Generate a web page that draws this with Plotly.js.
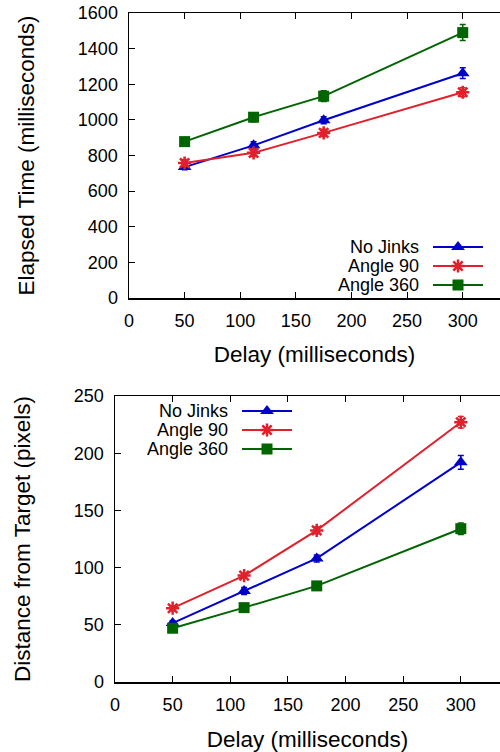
<!DOCTYPE html>
<html><head><meta charset="utf-8">
<script src="https://cdn.plot.ly/plotly-3.0.1.min.js"></script>
<style>html,body{margin:0;padding:0;background:#fff}#c{width:500px;height:752px}</style>
</head><body><div id="c"></div>
<script>
// Data
const delays = [50, 112, 175, 300];
const seriesNames = ["No Jinks", "Angle 90", "Angle 360"];
const timeNoJinks = [735, 857, 998, 1262];
const timeAngle90 = [758, 815, 927, 1155];
const timeAngle360 = [878, 1015, 1133, 1490];
const timeErrNoJinks = [15, 20, 20, 30];
const timeErrAngle90 = [20, 20, 20, 25];
const timeErrAngle360 = [15, 25, 30, 45];
const distNoJinks = [51.5, 79.5, 108, 192];
const distAngle90 = [64.5, 93, 132.5, 227];
const distAngle360 = [47, 65, 84, 134];
const distErrNoJinks = [2, 3, 3, 6];
const distErrAngle90 = [2, 2, 3, 5];
const distErrAngle360 = [2, 2, 2, 5];
const xTicks = [0, 50, 100, 150, 200, 250, 300];
const timeTicks = [0, 200, 400, 600, 800, 1000, 1200, 1400, 1600];
const distTicks = [0, 50, 100, 150, 200, 250];

const colors = ["#0000cc", "#e0202a", "#006400"];
const symbols = ["triangle-up", "asterisk-open", "square"];
const msize = [12, 11, 11];
const FONT = "Liberation Sans, Arial, sans-serif";

const timeY = [timeNoJinks, timeAngle90, timeAngle360];
const timeE = [timeErrNoJinks, timeErrAngle90, timeErrAngle360];
const distY = [distNoJinks, distAngle90, distAngle360];
const distE = [distErrNoJinks, distErrAngle90, distErrAngle360];

const traces = [];
function addSeries(ys, es, xa, ya) {
  for (let i = 0; i < 3; i++) {
    traces.push({
      x: delays, y: ys[i], xaxis: xa, yaxis: ya, type: "scatter", mode: "lines+markers",
      name: seriesNames[i], showlegend: false,
      line: {color: colors[i], width: 2},
      marker: {symbol: symbols[i], size: msize[i], color: colors[i], opacity: 1, line: {color: colors[i], width: symbols[i] === "asterisk-open" ? 2.5 : 0}},
      error_y: {type: "data", array: es[i], visible: true, color: colors[i], thickness: 1.5, width: 3}
    });
  }
}
addSeries(timeY, timeE, "x", "y");
addSeries(distY, distE, "x2", "y2");

// Custom legends (text left of sample), positioned in page pixels
const W = 500, H = 752;
const px = v => v / W, py = v => 1 - v / H;
const legends = [
  {textRight: 421, x0: 433, x1: 483, rows: [247, 266, 285], xa: "x3", ya: "y3"},
  {textRight: 230, x0: 242, x1: 292, rows: [411, 430, 449], xa: "x4", ya: "y4"}
];
const shapes = [];
const annotations = [];
legends.forEach(lg => {
  for (let i = 0; i < 3; i++) {
    shapes.push({type: "line", xref: "paper", yref: "paper", x0: px(lg.x0), x1: px(lg.x1), y0: py(lg.rows[i]), y1: py(lg.rows[i]), line: {color: colors[i], width: 2}});
    annotations.push({xref: "paper", yref: "paper", x: px(lg.textRight), y: py(lg.rows[i]), xanchor: "right", yanchor: "middle", text: seriesNames[i], showarrow: false, font: {family: FONT, size: 18, color: "#000"}});
  }
  traces.push({
    x: [0.5, 0.5, 0.5], y: [2, 1, 0], xaxis: lg.xa, yaxis: lg.ya, type: "scatter", mode: "markers", showlegend: false, hoverinfo: "skip",
    marker: {symbol: symbols, size: msize, color: colors, opacity: 1, line: {color: colors, width: [0, 2.5, 0]}}
  });
});

const axBase = {showline: true, linecolor: "#000", linewidth: 1.5, ticks: "inside", ticklen: 6, tickcolor: "#000", showgrid: false, zeroline: false, tickfont: {family: FONT, size: 18, color: "#000"}};
const titleFont = {family: FONT, size: 22.5, color: "#000"};
const layout = {
  width: W, height: H, margin: {l: 0, r: 0, t: 0, b: 0}, paper_bgcolor: "#fff", plot_bgcolor: "rgba(0,0,0,0)", showlegend: false,
  xaxis: Object.assign({}, axBase, {domain: [129 / W, 1], range: [0, 333.5], tickvals: xTicks, mirror: "allticks", anchor: "y", ticklabelstandoff: 6,
    title: {text: "Delay (milliseconds)", font: titleFont, standoff: 16}}),
  yaxis: Object.assign({}, axBase, {domain: [py(298), py(13)], range: [0, 1600], tickvals: timeTicks, anchor: "x", ticklabelstandoff: 6,
    title: {text: "Elapsed Time (milliseconds)", font: titleFont, standoff: 37}}),
  xaxis2: Object.assign({}, axBase, {domain: [115 / W, 1], range: [0, 334], tickvals: xTicks, mirror: "allticks", anchor: "y2", ticklabelstandoff: 6,
    title: {text: "Delay (milliseconds)", font: titleFont, standoff: 17}}),
  yaxis2: Object.assign({}, axBase, {domain: [py(682), py(396)], range: [0, 250], tickvals: distTicks, anchor: "x2", ticklabelstandoff: 6,
    title: {text: "Distance from Target (pixels)", font: titleFont, standoff: 37}}),
  xaxis3: {domain: [px(433), px(483)], range: [0, 1], visible: false, fixedrange: true, anchor: "y3"},
  yaxis3: {domain: [py(285 + 9.5), py(247 - 9.5)], range: [-0.5, 2.5], visible: false, fixedrange: true, anchor: "x3"},
  xaxis4: {domain: [px(242), px(292)], range: [0, 1], visible: false, fixedrange: true, anchor: "y4"},
  yaxis4: {domain: [py(449 + 9.5), py(411 - 9.5)], range: [-0.5, 2.5], visible: false, fixedrange: true, anchor: "x4"},
  shapes: shapes, annotations: annotations
};
Plotly.newPlot("c", traces, layout, {staticPlot: true, displayModeBar: false});
</script></body></html>
